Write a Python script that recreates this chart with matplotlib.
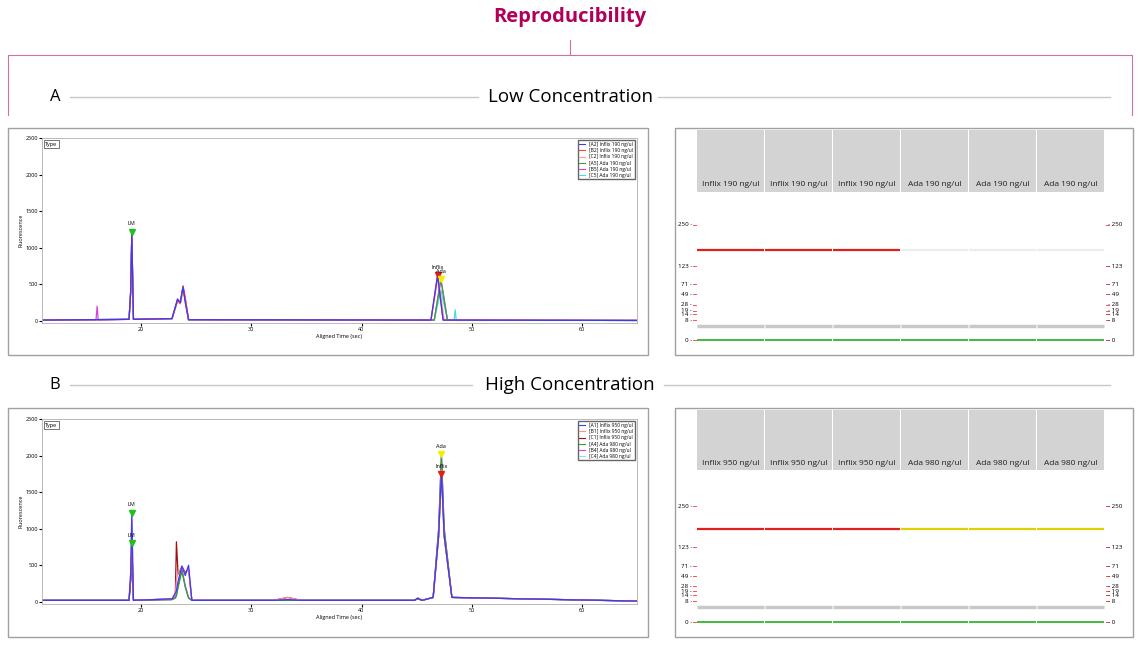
import matplotlib
matplotlib.use("Agg")
import matplotlib.pyplot as plt
from matplotlib.patches import Rectangle
from matplotlib.lines import Line2D

W, H = 1140, 645
fig = plt.figure(figsize=(11.4, 6.45), dpi=100)
plt.rcParams['font.family'] = ['Open Sans', 'DejaVu Sans']

def px(x0, y0, x1, y1):
    return [x0 / W, 1 - y1 / H, (x1 - x0) / W, (y1 - y0) / H]

# ---------------- data ----------------
title = "Reproducibility"
panel_titles = ["Low Concentration", "High Concentration"]
panel_letters = ["A", "B"]

low_names = ["[A2] Inflix 190 ng/ul", "[B2] Inflix 190 ng/ul", "[C2] Inflix 190 ng/ul",
             "[A5] Ada 190 ng/ul", "[B5] Ada 190 ng/ul", "[C5] Ada 190 ng/ul"]
low_colors = ["#3a3aff", "#ff4040", "#f0a0a0", "#40a040", "#e040e0", "#40e0e0"]
low_t = [
    [11, 18.9, 19.05, 19.15, 19.3, 22.8, 23.3, 23.55, 23.8, 24.0, 24.3, 46.3, 46.9, 47.4, 65],
    [11, 18.9, 19.05, 19.15, 19.3, 22.8, 23.3, 23.55, 23.8, 24.0, 24.3, 46.3, 46.9, 47.4, 65],
    [11, 18.9, 19.05, 19.15, 19.3, 22.8, 23.3, 23.55, 23.85, 24.0, 24.3, 46.3, 46.95, 47.5, 65],
    [11, 18.9, 19.05, 19.15, 19.3, 22.8, 23.3, 23.55, 23.8, 24.0, 24.3, 46.6, 47.2, 47.8, 65],
    [11, 15.9, 16.0, 16.1, 18.9, 19.05, 19.15, 19.3, 22.8, 23.3, 23.55, 23.8, 24.0, 24.3, 46.6, 47.2, 47.8, 65],
    [11, 18.9, 19.05, 19.15, 19.3, 22.8, 23.3, 23.55, 23.8, 24.0, 24.3, 46.6, 47.2, 47.8, 48.4, 48.5, 48.6, 65],
]
low_y = [
    [10, 20, 400, 1200, 20, 30, 300, 250, 460, 250, 15, 10, 620, 10, 5],
    [10, 20, 400, 1180, 20, 30, 280, 240, 480, 320, 15, 10, 630, 10, 5],
    [10, 20, 400, 1150, 20, 30, 260, 230, 420, 300, 15, 10, 600, 10, 5],
    [10, 20, 400, 1180, 20, 30, 280, 250, 450, 280, 15, 10, 560, 10, 5],
    [10, 10, 200, 10, 20, 400, 1190, 20, 30, 290, 250, 470, 290, 15, 10, 580, 10, 5],
    [10, 20, 400, 1170, 20, 30, 270, 240, 440, 270, 15, 10, 420, 10, 10, 150, 5, 5],
]

high_names = ["[A1] Inflix 950 ng/ul", "[B1] Inflix 950 ng/ul", "[C1] Inflix 950 ng/ul",
              "[A4] Ada 980 ng/ul", "[B4] Ada 980 ng/ul", "[C4] Ada 980 ng/ul"]
high_colors = ["#3a3aff", "#ff9090", "#a01010", "#30a030", "#e040e0", "#90e0e0"]
high_t_common = [11, 18.9, 19.05, 19.15, 19.3, 22.8, 23.1, 23.2, 23.35, 23.7, 24.0, 24.3, 24.6,
                 32.0, 33.3, 34.5, 44.8, 45.1, 45.5, 46.5, 47.0, 47.25, 47.5, 48.2, 65]
high_y = [
    [20, 20, 400, 1200, 20, 40, 120, 150, 280, 490, 360, 500, 20, 20, 30, 20, 20, 50, 20, 60, 900, 1780, 900, 60, 10],
    [20, 20, 400, 1150, 20, 40, 100, 300, 400, 470, 380, 450, 20, 20, 60, 20, 20, 50, 20, 60, 900, 1800, 900, 60, 10],
    [20, 20, 300, 820, 20, 40, 100, 820, 380, 480, 400, 450, 20, 20, 60, 20, 20, 50, 20, 60, 900, 1780, 900, 60, 10],
    [20, 20, 300, 760, 20, 30, 50, 80, 200, 420, 200, 50, 20, 20, 20, 20, 20, 40, 20, 60, 1000, 2000, 1000, 60, 10],
    [20, 20, 300, 800, 20, 30, 60, 100, 220, 450, 220, 60, 20, 20, 20, 20, 20, 40, 20, 60, 1000, 2020, 1000, 60, 10],
    [20, 20, 300, 780, 20, 30, 55, 90, 210, 430, 210, 55, 20, 20, 20, 20, 20, 40, 20, 60, 1000, 1990, 1000, 60, 10],
]

ladder_sizes = ["250", "123", "71", "49", "28", "19", "14", "8", "0"]
low_lanes = ["Inflix 190 ng/ul"] * 3 + ["Ada 190 ng/ul"] * 3
high_lanes = ["Inflix 950 ng/ul"] * 3 + ["Ada 980 ng/ul"] * 3
low_band_colors = ["#e02020"] * 3 + ["#ececec"] * 3
high_band_colors = ["#e02020"] * 3 + ["#e0d000"] * 3

# ---------------- header / frames ----------------
magenta = "#b0005a"
fig.text(570 / W, 1 - 17 / H, title, ha="center", va="center", color=magenta,
         fontsize=14.5, fontweight="bold")
ov = fig.add_axes([0, 0, 1, 1], zorder=-5)
ov.set_xlim(0, W); ov.set_ylim(H, 0); ov.axis("off")
pk = "#d070a0"
ov.plot([570, 570], [40, 55], color=pk, lw=0.8)
ov.plot([8, 8, 1132, 1132], [115, 55, 55, 115], color=pk, lw=0.8)
for (y, letter, ttl, lw0, lw1) in [(97, "A", panel_titles[0], 478, 658), (385, "B", panel_titles[1], 472, 664)]:
    ov.text(55, y, letter, ha="center", va="center", fontsize=12)
    ov.plot([70, lw0], [y, y], color="#c8c8c8", lw=1)
    ov.plot([lw1, 1110], [y, y], color="#c8c8c8", lw=1)
    ov.text(570, y, ttl, ha="center", va="center", fontsize=13.5)
for (x0, y0, x1, y1) in [(8, 128, 648, 355), (675, 128, 1133, 355), (8, 408, 648, 637), (675, 408, 1133, 637)]:
    ov.add_patch(Rectangle((x0, y0), x1 - x0, y1 - y0, fill=False, ec="#a0a0a0", lw=1))

# ---------------- electropherograms ----------------
def trace_panel(rect, t_list, y_list, names, colors, ann):
    ax = fig.add_axes(px(*rect))
    for t, y, c in list(zip(t_list, y_list, colors))[::-1]:
        ax.plot(t, y, color=c, lw=0.9)
    ax.set_xlim(11, 65); ax.set_ylim(-30, 2500)
    ax.set_xticks([20, 30, 40, 50, 60]); ax.set_yticks([0, 500, 1000, 1500, 2000, 2500])
    ax.tick_params(labelsize=4, length=2, pad=1)
    ax.set_xlabel("Aligned Time (sec)", fontsize=4, labelpad=1)
    ax.set_ylabel("Fluorescence", fontsize=4, labelpad=1)
    for s in ax.spines.values():
        s.set_color("#b0b0b0"); s.set_linewidth(0.6)
    ax.text(0.005, 0.98, "Type", transform=ax.transAxes, fontsize=4, va="top",
            bbox=dict(fc="white", ec="#404040", lw=0.5, pad=1))
    handles = [Line2D([], [], color=c, lw=0.8) for c in colors]
    ax.legend(handles, names, loc="upper right", fontsize=3.5, frameon=True, fancybox=False,
              edgecolor="#404040", handlelength=1.2, borderpad=0.3, labelspacing=0.25)
    for (x, y, lab, mc) in ann:
        ax.plot([x], [y], marker="v", color=mc, ms=5)
        ax.text(x, y + 70, lab, ha="center", va="bottom", fontsize=4)
    return ax

trace_panel((42, 138, 637, 323), low_t, low_y, low_names, low_colors,
            [(19.15, 1220, "LM", "#20c020"), (46.9, 620, "Inflix", "#e02020"), (47.2, 570, "Ada", "#f0f000")])
trace_panel((42, 419, 637, 604), [high_t_common] * 6, high_y, high_names, high_colors,
            [(19.15, 1220, "LM", "#20c020"), (19.15, 800, "LM", "#20c020"),
             (47.25, 2020, "Ada", "#f0f000"), (47.25, 1750, "Inflix", "#e02020")])

# ---------------- gels ----------------
def gel_panel(rect, header_bottom, lanes, band_colors, ypos, band_y, low_band_y):
    x0, y0, x1, y1 = rect
    ax = fig.add_axes(px(x0, y0, x1, y1))
    ax.set_xlim(x0, x1); ax.set_ylim(y1, y0); ax.axis("off")
    lane_x0, lane_w = 697, 68
    for i, (lab, bc) in enumerate(zip(lanes, band_colors)):
        lx = lane_x0 + i * lane_w
        ax.add_patch(Rectangle((lx, y0 + 2), lane_w - 1.5, header_bottom - y0 - 2, color="#d3d3d3", lw=0))
        ax.text(lx + lane_w / 2, header_bottom - 7, lab, ha="center", va="center", fontsize=6, color="#202020")
        ax.plot([lx, lx + lane_w - 1.5], [band_y, band_y], color=bc, lw=1.6, solid_capstyle="butt")
        ax.plot([lx, lx + lane_w - 1.5], [low_band_y, low_band_y], color="#c8c8c8", lw=2.5, solid_capstyle="butt")
        ax.plot([lx, lx + lane_w - 1.5], [ypos[-1], ypos[-1]], color="#20b020", lw=1.2, solid_capstyle="butt")
    for s, y in zip(ladder_sizes, ypos):
        ax.text(692, y, s + " -", ha="right", va="center", fontsize=4.5)
        ax.text(1108, y, "- " + s, ha="left", va="center", fontsize=4.5)
        ax.plot([693, 696], [y, y], color="#ff3030", lw=0.6)
        ax.plot([1106, 1109], [y, y], color="#ff3030", lw=0.6)

gel_panel((675, 128, 1133, 355), 192, low_lanes, low_band_colors,
          [225, 266, 284, 294, 305, 311, 314, 320, 340], 250, 326)
gel_panel((675, 408, 1133, 637), 470, high_lanes, high_band_colors,
          [506, 547, 566, 576, 586, 591, 595, 601, 622], 529, 607)

fig.savefig("out.png", dpi=100)
